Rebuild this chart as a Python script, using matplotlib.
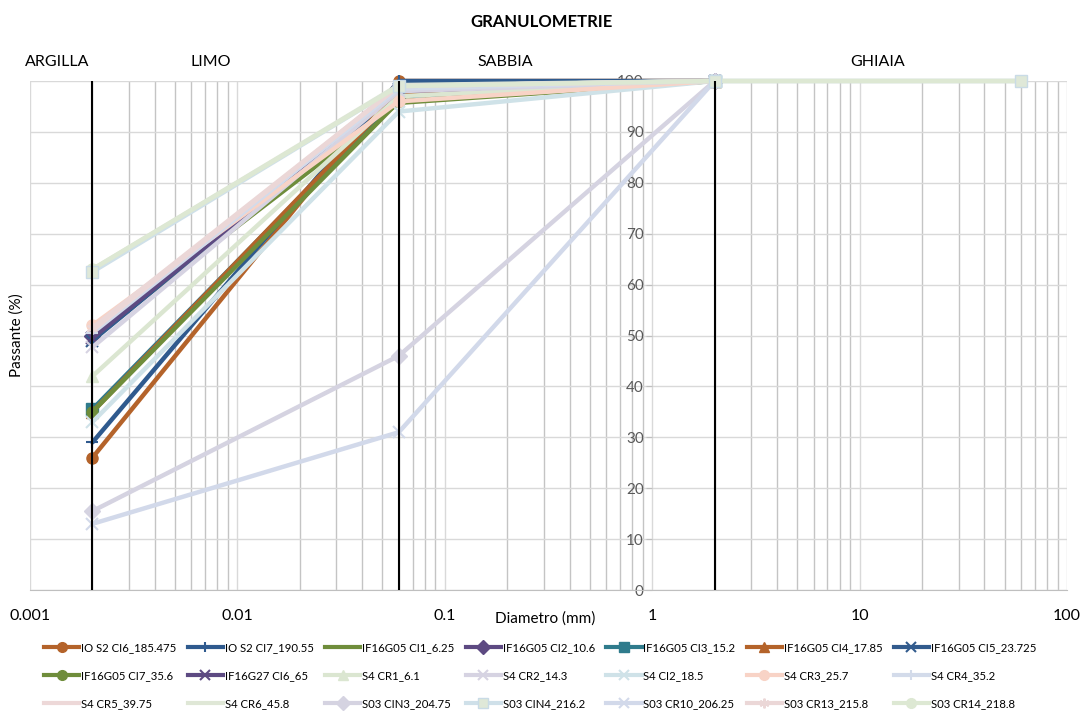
import matplotlib
matplotlib.use("Agg")
import matplotlib.pyplot as plt
from matplotlib.lines import Line2D
from matplotlib.transforms import blended_transform_factory

plt.rcParams['font.family'] = ['Lato', 'DejaVu Sans']

# Sieve diameters (mm)
diam = [0.002, 0.06, 2, 60]

series_names = [
    "IO S2 CI6_185.475", "IO S2 CI7_190.55", "IF16G05 CI1_6.25", "IF16G05 CI2_10.6",
    "IF16G05 CI3_15.2", "IF16G05 CI4_17.85", "IF16G05 CI5_23.725",
    "IF16G05 CI7_35.6", "IF16G27 CI6_65", "S4 CR1_6.1", "S4 CR2_14.3",
    "S4 CI2_18.5", "S4 CR3_25.7", "S4 CR4_35.2",
    "S4 CR5_39.75", "S4 CR6_45.8", "S03 CIN3_204.75", "S03 CIN4_216.2",
    "S03 CR10_206.25", "S03 CR13_215.8", "S03 CR14_218.8",
]

# Passing percentage at each diameter (None = not measured)
passing = [
    [26.0, 100.0, 100.0, None],
    [29.0, 100.0, 100.0, None],
    [49.7, 95.7, 100.0, None],
    [50.0, 98.0, 100.0, None],
    [35.5, 97.0, 100.0, None],
    [35.0, 97.5, 100.0, None],
    [49.0, 98.5, 100.0, None],
    [35.0, 96.0, 100.0, None],
    [49.5, 98.0, 100.0, None],
    [42.0, 97.0, 100.0, None],
    [47.7, 98.0, 100.0, None],
    [33.0, 94.0, 100.0, None],
    [52.0, 96.0, 100.0, None],
    [50.5, 98.5, 100.0, None],
    [51.0, 99.0, 100.0, None],
    [63.0, 99.2, 100.0, 100.0],
    [15.5, 46.0, 100.0, None],
    [62.5, 99.0, 100.0, 100.0],
    [13.0, 31.0, 100.0, None],
    [51.5, 99.0, 100.0, None],
    [63.0, 99.0, 100.0, 100.0],
]

colors = [
    "#b4632a", "#2f5a8e", "#6f8d3b", "#5d4a82", "#2f7b8c", "#b4632a", "#325b8d",
    "#6f8d3b", "#5d4a82", "#dbe6d1", "#d6d3e2", "#cfe2e8", "#f8d3c6", "#d3dbea",
    "#edd8d8", "#dfe7d6", "#d5d3e1", "#cfe0e9", "#d2d9ea", "#ebd7d7", "#dde8d3",
]
markers = [
    "o", "+", None, "D", "s", "^", "x",
    "o", "x", "^", "x", "x", "o", "+",
    None, None, "D", "s", "x", (6, 2, 0), "o",
]

zones = ["ARGILLA", "LIMO", "SABBIA", "GHIAIA"]
zone_label_x = [0.00135, 0.0074, 0.195, 12.2]
zone_limits = [0.002, 0.06, 2]

fig = plt.figure(figsize=(10.84, 7.25), dpi=100)
ax = fig.add_axes([30 / 1084, 1 - 590 / 725, (1067 - 30) / 1084, (590 - 81) / 725])
ax.set_xscale("log")
ax.set_xlim(0.001, 100)
ax.set_ylim(0, 100)

# grid
ax.set_yticks(range(0, 101, 10))
ax.grid(True, which="major", axis="y", color="#d9d9d9", lw=1.0, zorder=0)
ax.grid(True, which="major", axis="x", color="#d9d9d9", lw=1.0, zorder=0)
ax.grid(True, which="minor", axis="x", color="#c4c4c4", lw=1.0, zorder=0)
ax.set_axisbelow(True)

# each series: line and markers drawn together, later series on top
handles = []
for i, (name, vals) in enumerate(zip(series_names, passing)):
    xs = [d for d, v in zip(diam, vals) if v is not None]
    ys = [v for v in vals if v is not None]
    m = markers[i]
    mfc = colors[i]
    mec = colors[i]
    z = 3 + 0.01 * i
    if name.startswith("S03 CIN4"):
        mfc = "#dfe8d8"
        mec = "#c9dbe6"
    mew = 1.5 if m in ("+", "x", (6, 2, 0)) else 1.0
    ax.plot(xs, ys, color=colors[i], lw=3.2, solid_capstyle="round",
            clip_on=False, zorder=z)
    ax.plot(xs, ys, linestyle="none", marker=m, markersize=8,
            markerfacecolor=mfc, markeredgecolor=mec, markeredgewidth=mew,
            clip_on=False,
            zorder=(5 if name.startswith("S03 CIN4") else z + 0.005))
    handles.append(Line2D([], [], color=colors[i], lw=3.0, marker=m, markersize=7,
                          markerfacecolor=mfc, markeredgecolor=mec,
                          markeredgewidth=mew))

# soil-class boundaries
for xb in zone_limits:
    ax.plot([xb, xb], [0, 100], color="black", lw=1.5, zorder=6)

# spines / axes
for s in ("top", "right"):
    ax.spines[s].set_visible(False)
ax.spines["bottom"].set_color("#bfbfbf")
ax.spines["left"].set_position(("data", 1))
ax.spines["left"].set_color("#bfbfbf")
ax.spines["left"].set_visible(False)
ax.tick_params(axis="y", length=4, color="#bfbfbf", labelcolor="#595959",
               labelsize=11, pad=2)
ax.tick_params(axis="x", which="both", length=0, labelsize=11.5, pad=14,
               labelcolor="black")
ax.set_xticks([0.001, 0.01, 0.1, 1, 10, 100])
ax.set_xticklabels(["0.001", "0.01", "0.1", "1", "10", "100"])

trans = blended_transform_factory(ax.transData, ax.transAxes)
for name, xz in zip(zones, zone_label_x):
    ax.text(xz, 1.023, name, transform=trans, ha="center", va="bottom",
            fontsize=11.5, color="black")

fig.text(0.5, 1 - 22 / 725, "GRANULOMETRIE", ha="center", va="center",
         fontsize=12, fontweight="bold")
fig.text(545 / 1084, 1 - 619 / 725, "Diametro (mm)", ha="center", va="center",
         fontsize=11)
fig.text(17 / 1084, 1 - 335 / 725, "Passante (%)", ha="center", va="center",
         fontsize=11, rotation=90)

ncol = 7
order = [j + ncol * r for j in range(ncol) for r in range(3)]
leg = fig.legend([handles[k] for k in order], [series_names[k] for k in order],
                 ncol=ncol, loc="upper left",
                 bbox_to_anchor=(44 / 1084, 1 - 642 / 725),
                 frameon=False, fontsize=8.2, handlelength=3.1, handletextpad=0.15,
                 columnspacing=1.0, labelspacing=1.5, numpoints=1,
                 borderaxespad=0, borderpad=0)

fig.savefig("out.png", dpi=100)
